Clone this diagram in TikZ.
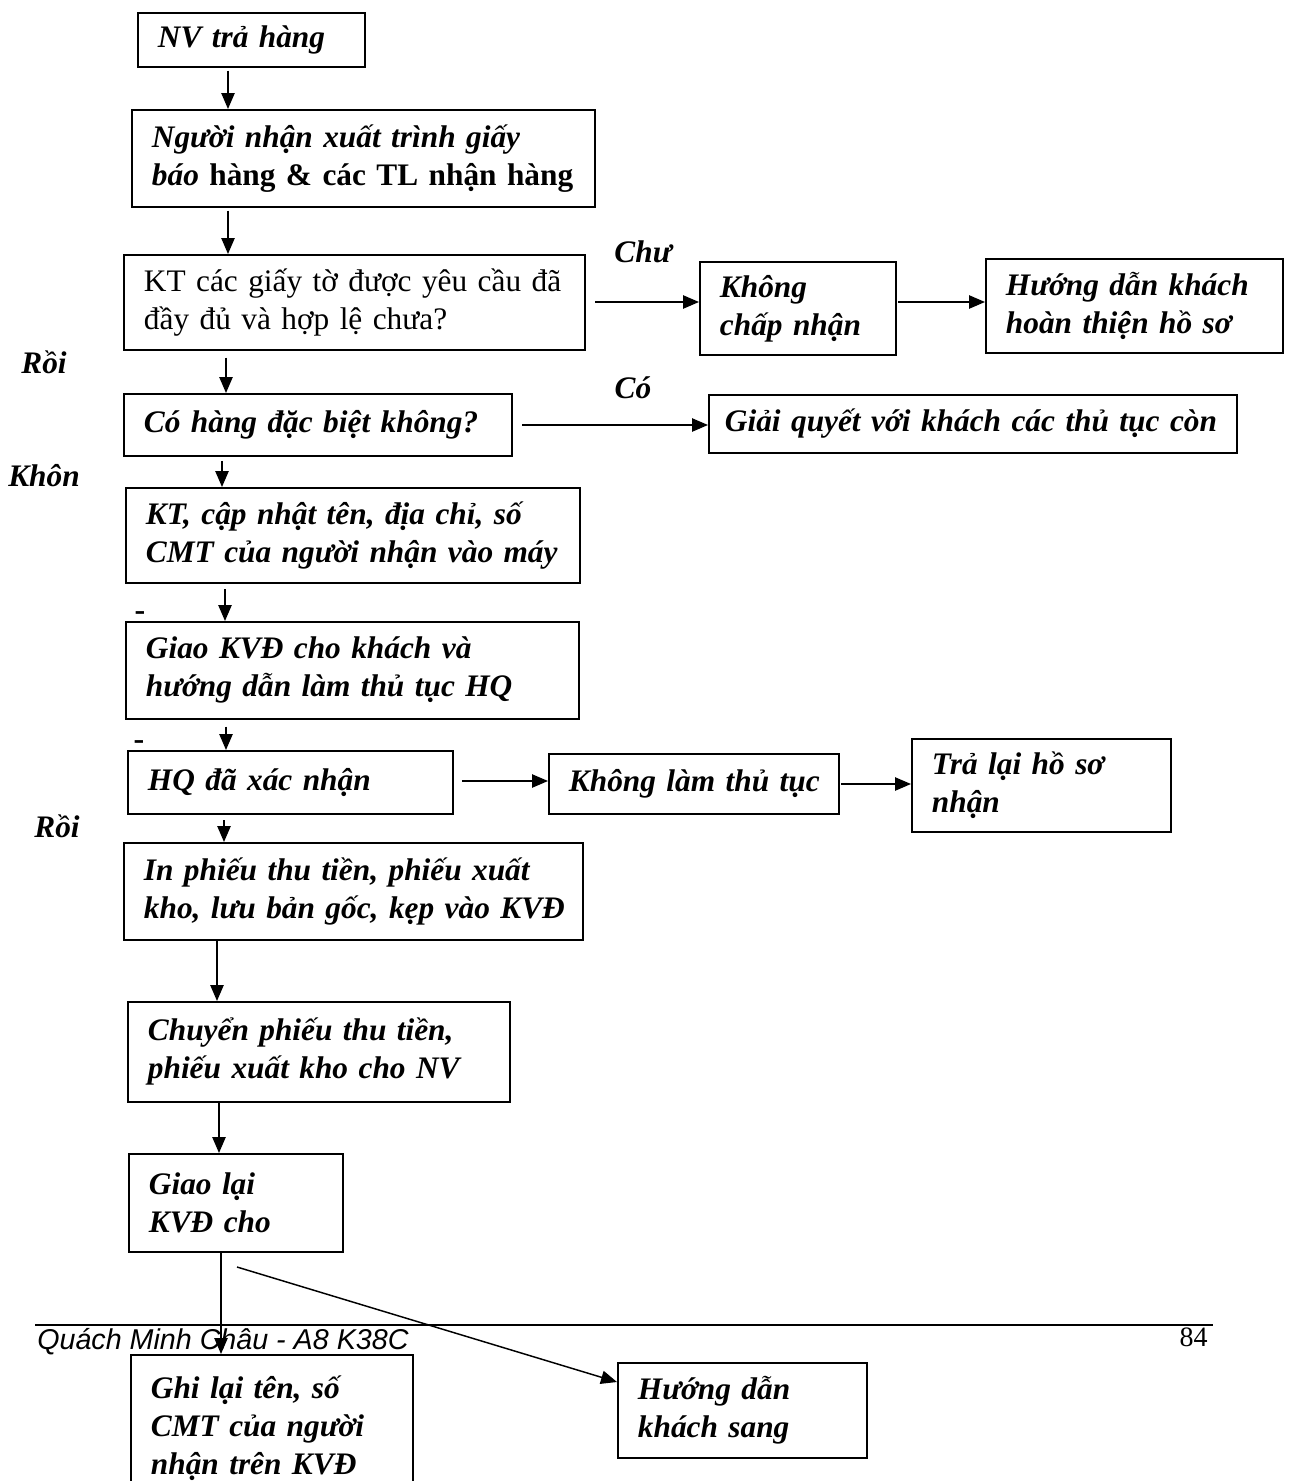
\documentclass[tikz,border=0pt]{standalone}
\usepackage{fontspec}
\setmainfont{Liberation Serif}
\newfontfamily\footfont{Liberation Sans}
\usetikzlibrary{arrows.meta}

% one line of box text, never broken
\newcommand{\dong}[1]{\mbox{#1}}

\tikzset{
  box/.style={draw, line width=1.4pt, rectangle, anchor=north west, inner xsep=15pt, inner ysep=2pt,
    align=left, font=\fontsize{23.5}{28.5}\selectfont\bfseries\itshape},
  arr/.style={line width=1.1pt, -{Triangle[length=12pt,width=10pt]}},
  lbl/.style={font=\fontsize{23.5}{28.5}\selectfont\bfseries\itshape, inner sep=0pt},
  gach/.style={font=\fontsize{24}{24}\selectfont\bfseries, inner sep=0pt},
}

\begin{document}
\begin{tikzpicture}[x=0.75pt,y=0.75pt,yscale=-1,xscale=1]
\useasboundingbox (0,0) rectangle (1289,1481);
\clip (0,0) rectangle (1289,1481);

% main column
\node[box, text width=140.25pt, minimum height=40.5pt] (tra) at (137,12) {\dong{NV trả hàng}};
\node[box, text width=317.25pt, minimum height=72.75pt] (xuat) at (131,109) {\dong{Người nhận xuất trình giấy}\\ \dong{báo \textup{hàng \& các TL nhận hàng}}};
\node[box, text width=315.75pt, minimum height=71.25pt, font=\fontsize{23.5}{28.5}\selectfont] (ktgiay) at (123,254) {\dong{KT các giấy tờ được yêu cầu đã}\\ \dong{đầy đủ và hợp lệ chưa?}};
\node[box, text width=261pt, minimum height=46.5pt] (dacbiet) at (123,393) {\dong{Có hàng đặc biệt không?}};
\node[box, text width=310.5pt, minimum height=71.25pt] (capnhat) at (125,487) {\dong{KT, cập nhật tên, địa chỉ, số}\\ \dong{CMT của người nhận vào máy}};
\node[box, text width=309.75pt, minimum height=72.75pt] (giaokvd) at (125,621) {\dong{Giao KVĐ cho khách và}\\ \dong{hướng dẫn làm thủ tục HQ}};
\node[box, text width=213.75pt, minimum height=47.25pt] (hq) at (127,750) {\dong{HQ đã xác nhận}};
\node[box, text width=314.25pt, minimum height=72.75pt] (inphieu) at (123,842) {\dong{In phiếu thu tiền, phiếu xuất}\\ \dong{kho, lưu bản gốc, kẹp vào KVĐ}};
\node[box, text width=256.5pt, minimum height=75pt] (chuyen) at (127,1001) {\dong{Chuyển phiếu thu tiền,}\\ \dong{phiếu xuất kho cho NV}};
\node[box, text width=130.5pt, minimum height=73.5pt] (giaolai) at (128,1153) {\dong{Giao lại}\\ \dong{KVĐ cho}};
\node[box, text width=181.5pt, minimum height=109.5pt] (ghilai) at (130,1354) {\dong{Ghi lại tên, số}\\ \dong{CMT của người}\\ \dong{nhận trên KVĐ}};

% side boxes
\node[box, text width=117pt, minimum height=69.75pt] (khongnhan) at (699,261) {\dong{Không}\\ \dong{chấp nhận}};
\node[box, text width=192.75pt, minimum height=70.5pt] (hoanthien) at (985,258) {\dong{Hướng dẫn khách}\\ \dong{hoàn thiện hồ sơ}};
\node[box, text width=372pt, inner xsep=12pt, minimum height=43.5pt] (giaiquyet) at (708,394) {\dong{Giải quyết với khách các thủ tục còn}};
\node[box, text width=187.5pt, minimum height=45pt] (khonglam) at (548,753) {\dong{Không làm thủ tục}};
\node[box, text width=164.25pt, minimum height=69.75pt] (tralai) at (911,738) {\dong{Trả lại hồ sơ}\\ \dong{nhận}};
\node[box, text width=156.75pt, minimum height=71.25pt] (sang) at (617,1362) {\dong{Hướng dẫn}\\ \dong{khách sang}};

% labels
\node[lbl] (chua) at (643,252) {Chư};
\node[lbl] (roi1) at (44,362) {Rồi};
\node[lbl] (co) at (633,388) {Có};
\node[lbl] (khon) at (44,476) {Khôn};
\node[lbl] (roi2) at (57,826) {Rồi};
\node[gach] (gach1) at (140,616) {-};
\node[gach] (gach2) at (139,745) {-};

% arrows down the column
\draw[arr, shorten <=2pt] (tra.south -| 228,0) -- (xuat.north -| 228,0);
\draw[arr, shorten <=2pt] (xuat.south -| 228,0) -- (ktgiay.north -| 228,0);
\draw[arr, shorten <=5pt] (ktgiay.south -| 226,0) -- (dacbiet.north -| 226,0);
\draw[arr, shorten <=3pt] (dacbiet.south -| 222,0) -- (capnhat.north -| 222,0);
\draw[arr, shorten <=4pt] (capnhat.south -| 225,0) -- (giaokvd.north -| 225,0);
\draw[arr, shorten <=5pt] (giaokvd.south -| 226,0) -- (hq.north -| 226,0);
\draw[arr, shorten <=4pt] (hq.south -| 224,0) -- (inphieu.north -| 224,0);
\draw[arr] (inphieu.south -| 217,0) -- (chuyen.north -| 217,0);
\draw[arr] (chuyen.south -| 219,0) -- (giaolai.north -| 219,0);
\draw[arr] (giaolai.south -| 221,0) -- (ghilai.north -| 221,0);

% arrows to the right
\draw[arr, shorten <=7pt] (ktgiay.east |- 0,302) -- (khongnhan.west |- 0,302);
\draw[arr, shorten <=1pt] (khongnhan.east |- 0,302) -- (hoanthien.west |- 0,302);
\draw[arr, shorten <=7pt] (dacbiet.east |- 0,425) -- (giaiquyet.west |- 0,425);
\draw[arr, shorten <=6pt] (hq.east |- 0,781) -- (khonglam.west |- 0,781);
\draw[arr, shorten <=1pt] (khonglam.east |- 0,784) -- (tralai.west |- 0,784);
\coordinate (xien) at (237,1267);
\draw[arr] (xien) -- (sang.west |- 0,1382);

% footer
\draw[line width=1.5pt] (35,1325) -- (1213,1325);
\node[anchor=north west, inner sep=0pt, font=\footfont\itshape\fontsize{21.5}{24}\selectfont] (tacgia) at (37,1328) {Quách Minh Châu - A8 K38C};
\node[anchor=north east, inner sep=0pt, font=\fontsize{21}{22}\selectfont] (trang) at (1208,1328) {84};

\end{tikzpicture}
\end{document}
